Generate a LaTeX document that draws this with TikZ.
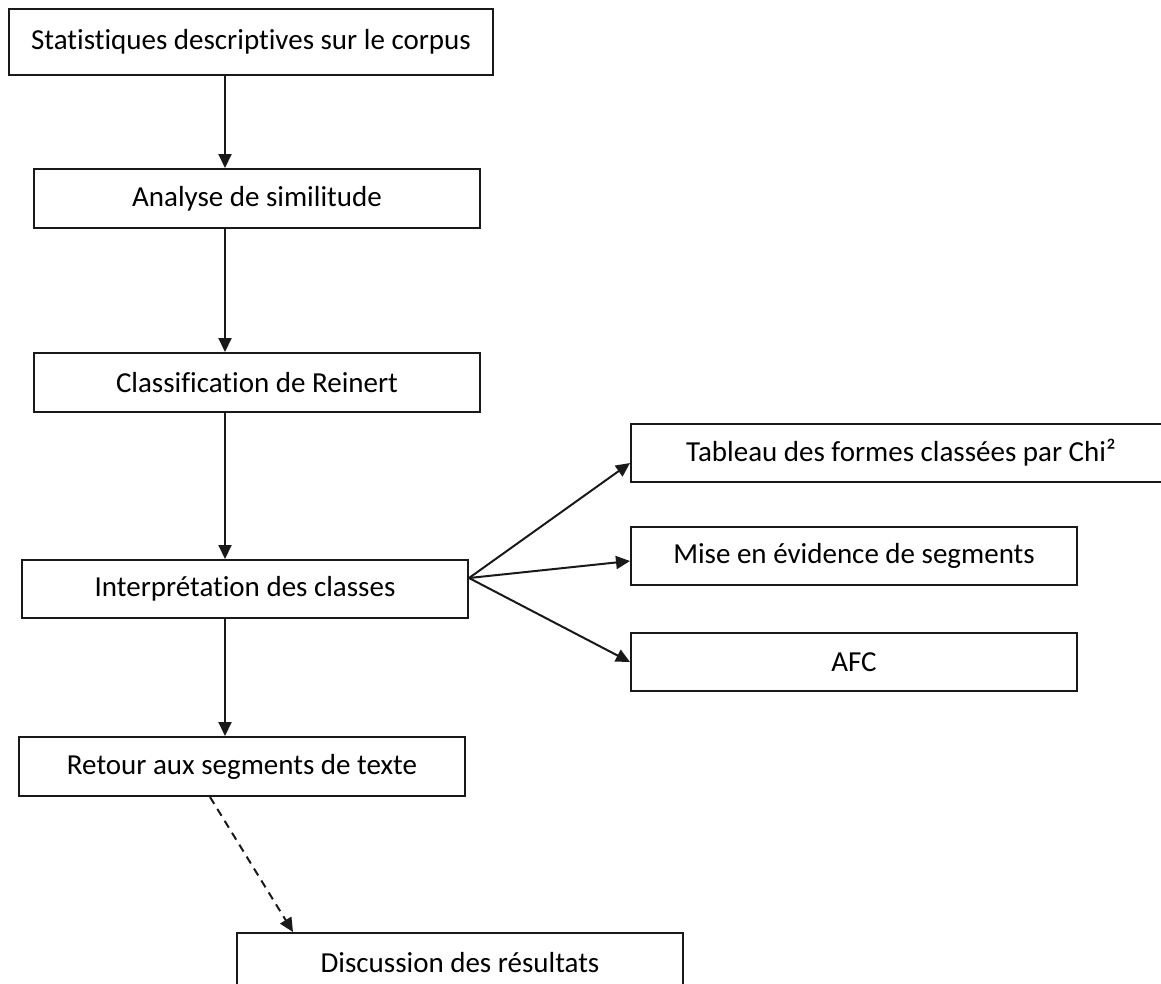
\documentclass[tikz,border=0pt]{standalone}
\usepackage{fontspec}
\setmainfont{Carlito}[RawFeature=-liga]
\usetikzlibrary{arrows.meta}
\tikzstyle{stage}=[draw=black!90,line width=2pt,inner sep=0pt,minimum width=446pt,minimum height=59pt,font=\fontsize{29}{34}\selectfont]
\tikzstyle{flow}=[-{Triangle[length=14pt,width=13pt]},line width=2pt,draw=black!90]
\tikzstyle{hint}=[flow,dash pattern=on 8pt off 6pt]

\begin{document}
\begin{tikzpicture}[x=1pt,y=-1pt]
                  \useasboundingbox (0,0) rectangle (1161,983);
                  \fill [white] (0,0) rectangle (1161,983);

                  \coordinate (spine) at (225,0);

                  \node (stat) at (251,42) [stage,minimum width=484pt,minimum height=66pt] {Statistiques descriptives sur le corpus};
                  \node (anal) at (257,198.5) [stage] {Analyse de similitude};
                  \node (clas) at (257,382.5) [stage] {Classification de Reinert};
                  \node (interp) at (245,589) [stage,minimum height=58pt] {Interprétation des classes};
                  \node (retour) at (242,766.5) [stage] {Retour aux segments de texte};
                  \node (disc) at (460,962.5) [stage] {Discussion des résultats};

                  \node (tab) at (901,453) [stage,minimum width=540pt,minimum height=58pt] {Tableau des formes classées par Chi²};
                  \node (mise) at (854,556) [stage,minimum height=58pt] {Mise en évidence de segments};
                  \node (afc) at (854,662) [stage,minimum height=58pt] {AFC};

                  \draw [flow] (stat.south -| spine) -- (anal.north -| spine);
                  \draw [flow] (anal.south -| spine) -- (clas.north -| spine);
                  \draw [flow] (clas.south -| spine) -- (interp.north -| spine);
                  \draw [flow] (interp.south -| spine) -- (retour.north -| spine);

                  \draw [flow] ([yshift=11pt]interp.east) -- ([yshift=-10pt]tab.west);
                  \draw [flow] ([yshift=11pt]interp.east) -- ([yshift=-5pt]mise.west);
                  \draw [flow] ([yshift=11pt]interp.east) -- (afc.west);

                  \draw [hint] ([xshift=-32pt]retour.south) -- ([xshift=-167pt]disc.north);
              \end{tikzpicture}
\end{document}
